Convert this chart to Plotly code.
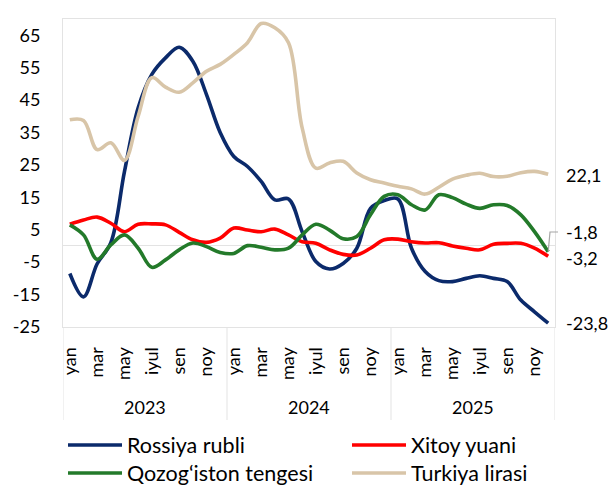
import plotly.graph_objects as go

months = ["yan", "fev", "mar", "apr", "may", "iyun", "iyul", "avg", "sen", "okt", "noy", "dek"]
years = ["2023", "2024", "2025"]
x_idx = list(range(36))

rossiya = [-8.5, -15.7, -5.5, 1.0, 23.0, 42.6, 52.9, 58.0, 61.3, 57.0, 46.7, 35.0,
           27.6, 24.5, 19.9, 14.2, 14.5, 4.4, -4.8, -7.1, -5.4, -0.7, 11.6, 14.0,
           14.5, -0.7, -7.9, -10.7, -11.0, -10.0, -9.2, -10.0, -11.0, -16.7, -20.3, -23.8]
xitoy = [6.7, 8.0, 8.9, 7.0, 4.4, 6.7, 6.8, 6.5, 4.2, 1.9, 1.1, 2.4,
         5.5, 4.9, 4.4, 5.2, 3.4, 1.3, 0.8, -1.2, -2.6, -2.8, -0.7, 1.9,
         2.1, 1.3, 0.9, 1.0, 0.0, -0.7, -1.2, 0.5, 0.8, 0.8, -0.7, -3.2]
qozog = [6.5, 3.4, -4.1, 0.3, 3.4, -0.7, -6.6, -4.3, -1.2, 0.9, -0.2, -2.0,
         -2.3, 0.1, -0.4, -1.2, -0.7, 3.4, 6.7, 4.9, 2.2, 2.9, 9.6, 15.3,
         15.8, 12.7, 11.1, 15.8, 14.9, 12.9, 11.6, 12.7, 12.5, 9.6, 4.4, -1.8]
turkiya = [38.9, 38.7, 29.7, 31.8, 26.4, 40.0, 51.9, 49.0, 47.4, 50.3, 53.9, 56.0,
           59.1, 62.7, 68.6, 67.3, 62.7, 36.4, 24.0, 25.6, 26.1, 22.5, 20.4, 19.4,
           18.4, 17.6, 16.0, 18.1, 20.6, 21.8, 22.4, 21.4, 21.5, 22.6, 23.0, 22.1]

series_names = ["Rossiya rubli", "Xitoy yuani", "Qozog\u2018iston tengesi", "Turkiya lirasi"]
series_values = [rossiya, xitoy, qozog, turkiya]
series_colors = ["#0B2A6B", "#FF0000", "#237A2A", "#D8C5A8"]

y_ticks = [-25, -15, -5, 5, 15, 25, 35, 45, 55, 65]
end_labels = [("22,1", 22.0), ("-1,8", 4.3), ("-3,2", -3.7), ("-23,8", -23.8)]

FONT = "Lato"
FS = 18
fig = go.Figure()
for name, vals, col in zip(series_names, series_values, series_colors):
    fig.add_trace(go.Scatter(
        x=x_idx, y=vals, name=name, mode="lines", showlegend=False,
        line=dict(color=col, width=3.6, shape="spline", smoothing=1.0),
        hoverinfo="skip"))

tickvals = [i for i in x_idx if i % 2 == 0]
ticktext = [months[i % 12] for i in tickvals]

L, R, T, B = 63, 555, 19, 327
W, H = 615, 486
fig.update_layout(
    width=W, height=H,
    margin=dict(l=L, r=W - R, t=T, b=H - B, autoexpand=False),
    paper_bgcolor="white", plot_bgcolor="white",
    font=dict(family=FONT, size=FS, color="#000000"),
    showlegend=False,
    xaxis=dict(range=[-0.5, 35.5], tickmode="array", tickvals=tickvals, ticktext=ticktext,
               tickangle=-90, showgrid=False, zeroline=False, showline=True,
               linecolor="#E3E3E3", linewidth=1, mirror=True,
               ticks="outside", ticklen=12, tickcolor="rgba(0,0,0,0)",
               tickfont=dict(family=FONT, size=FS)),
    yaxis=dict(range=[-25, 70], tickmode="array", tickvals=y_ticks,
               ticktext=[str(v) for v in y_ticks], showgrid=False,
               zeroline=True, zerolinecolor="#E3E3E3", zerolinewidth=1,
               showline=True, linecolor="#E3E3E3", linewidth=1, mirror=True,
               ticks="outside", ticklen=18, tickcolor="rgba(0,0,0,0)",
               tickfont=dict(family=FONT, size=FS)),
)

plot_h = B - T
plot_w = R - L
def px(xpix):
    return (xpix - L) / plot_w
def ppy(ypix):
    return (B - ypix) / plot_h

# year group separators and labels
for b in [-0.5, 11.5, 23.5, 35.5]:
    fig.add_shape(type="line", xref="x", yref="paper", x0=b, x1=b, y0=0, y1=ppy(420),
                  line=dict(color="#E3E3E3", width=1))
for k, yr in enumerate(years):
    fig.add_annotation(x=12 * k + 5.5, xref="x", y=ppy(407), yref="paper",
                       text=yr, showarrow=False, yanchor="middle",
                       font=dict(family=FONT, size=FS))

# end value labels
for txt, yv in end_labels:
    fig.add_annotation(x=1, xref="paper", y=yv, yref="y", text=txt, showarrow=False,
                       xanchor="left", xshift=9, yanchor="middle",
                       font=dict(family=FONT, size=FS))

# leader line for -1,8 label
def py(v):
    return (v + 25) / 95.0
fig.add_shape(type="path", xref="paper", yref="paper",
              path=f"M {px(548.2)},{py(-1.8)} L {px(550)},{py(4.3)} L {px(558)},{py(4.3)}",
              line=dict(color="#A6A6A6", width=1.2))

# legend (2 x 2)
leg_pos = [(68, 445), (352, 445), (68, 473), (352, 473)]
for (lx, ly), name, col in zip(leg_pos, series_names, series_colors):
    fig.add_shape(type="line", xref="paper", yref="paper",
                  x0=px(lx), x1=px(lx + 54), y0=ppy(ly), y1=ppy(ly),
                  line=dict(color=col, width=3.6))
    fig.add_annotation(x=px(lx + 57), xref="paper", y=ppy(ly), yref="paper",
                       text=name, showarrow=False, xanchor="left", yanchor="middle",
                       font=dict(family=FONT, size=21.5))

fig.write_html("out.html", config={"displayModeBar": False},
               post_script="document.body.style.margin='0';document.body.style.overflow='hidden';")
